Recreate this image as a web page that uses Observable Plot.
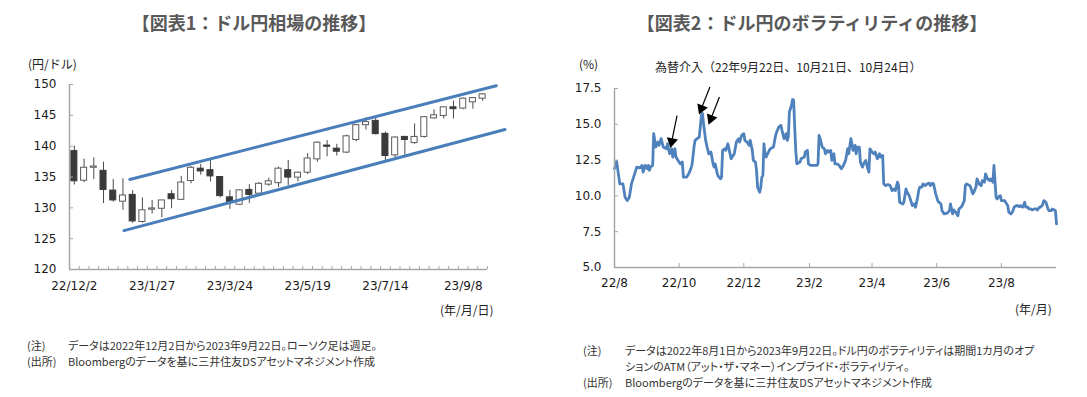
<!DOCTYPE html>
<html><head><meta charset="utf-8">
<script src="https://cdn.jsdelivr.net/npm/d3@7"></script>
<script src="https://cdn.jsdelivr.net/npm/@observablehq/plot@0.6"></script>
<style>
html,body{margin:0;padding:0;background:#fff}
body{width:1087px;height:397px;position:relative;overflow:hidden;font-family:"Noto Sans CJK JP",sans-serif;color:#222}
.a{position:absolute;white-space:nowrap;line-height:1}
.title{font-weight:bold;font-size:18px;color:#595959;transform:translate(-50%,-50%)}
.lab{font-size:12px;transform:translateY(-50%)}
.note{font-size:11px;transform:translateY(-50%);font-feature-settings:"palt";color:#333}
</style></head><body>
<div id="c1" class="a" style="left:0;top:70px"></div>
<div id="c2" class="a" style="left:560px;top:70px"></div>
<div class="a title" style="left:254px;top:22px">【図表1：ドル円相場の推移】</div>
<div class="a title" style="left:812px;top:22px">【図表2：ドル円のボラティリティの推移】</div>
<div class="a lab" style="left:28px;top:64px">(円/ドル)</div>
<div class="a lab" style="left:579px;top:64px">(%)</div>
<div class="a lab" style="left:655px;top:67px">為替介入（22年9月22日、10月21日、10月24日）</div>
<div class="a lab" style="left:440px;top:310px">(年/月/日)</div>
<div class="a lab" style="left:1015px;top:309px">(年/月)</div>
<div class="a note" style="left:27px;top:345px">(注)</div>
<div class="a note" style="left:68px;top:345px">データは2022年12月2日から2023年9月22日。ローソク足は週足。</div>
<div class="a note" style="left:27px;top:361px">(出所)</div>
<div class="a note" style="left:68px;top:361px">Bloombergのデータを基に三井住友DSアセットマネジメント作成</div>
<div class="a note" style="left:583px;top:350px">(注)</div>
<div class="a note" style="left:625px;top:350px">データは2022年8月1日から2023年9月22日。ドル円のボラティリティは期間1カ月のオプ</div>
<div class="a note" style="left:625px;top:366px">ションのATM（アット・ザ・マネー）インプライド・ボラティリティ。</div>
<div class="a note" style="left:583px;top:382px">(出所)</div>
<div class="a note" style="left:625px;top:382px">Bloombergのデータを基に三井住友DSアセットマネジメント作成</div>
<script>
// ---------- Chart 1: weekly USD/JPY candles ----------
const weekDates = ["2022-12-02","2022-12-09","2022-12-16","2022-12-23","2022-12-30","2023-01-06","2023-01-13","2023-01-20","2023-01-27","2023-02-03","2023-02-10","2023-02-17","2023-02-24","2023-03-03","2023-03-10","2023-03-17","2023-03-24","2023-03-31","2023-04-07","2023-04-14","2023-04-21","2023-04-28","2023-05-05","2023-05-12","2023-05-19","2023-05-26","2023-06-02","2023-06-09","2023-06-16","2023-06-23","2023-06-30","2023-07-07","2023-07-14","2023-07-21","2023-07-28","2023-08-04","2023-08-11","2023-08-18","2023-08-25","2023-09-01","2023-09-08","2023-09-15","2023-09-22"];
const openV  = [139.2,134.4,136.5,136.0,132.8,131.0,132.1,127.7,129.7,129.85,132.2,131.3,134.35,136.35,136.1,135.0,131.7,130.5,132.9,132.3,133.76,134.0,136.1,134.9,135.7,137.86,140.1,139.6,138.96,141.0,143.4,144.1,142.0,138.5,141.5,140.5,141.5,144.5,144.9,146.3,146.1,147.1,147.7];
const highV  = [140.0,137.9,138.1,137.4,134.6,134.7,132.8,131.6,131.2,131.2,132.8,135.1,136.7,137.05,137.8,135.1,132.83,132.9,133.75,134.1,134.8,136.6,137.7,135.8,138.8,140.7,140.9,140.3,141.8,143.5,144.65,144.9,142.3,141.5,141.6,143.6,144.8,145.9,146.3,147.3,147.8,147.9,148.5];
const lowV   = [133.7,134.1,134.6,130.7,130.9,129.6,127.5,127.5,129.0,128.4,129.85,131.2,133.9,135.3,134.2,131.6,129.75,130.4,130.7,131.9,133.5,133.3,133.6,134.2,135.4,137.4,138.3,138.4,138.8,140.7,142.6,141.8,137.6,138.1,138.3,140.3,141.3,144.4,144.4,144.4,145.9,146.0,147.3];
const closeV = [134.3,136.5,136.7,132.9,131.2,132.0,127.8,129.6,129.9,131.2,131.4,134.1,136.5,135.9,135.1,131.9,130.88,132.83,132.1,133.9,134.3,136.35,134.9,135.7,138.0,140.57,139.9,139.1,141.6,143.4,143.9,141.96,138.4,141.4,141.0,141.5,144.7,145.0,146.3,146.0,147.7,147.8,148.4];
const tickWeeks  = [0, 8, 16, 24, 32, 40];
const tickLabels1 = ["22/12/2","23/1/27","23/3/24","23/5/19","23/7/14","23/9/8"];
const yTicks1 = [120,125,130,135,140,145,150];
// trend channel (week index, yen)
const channelUpper = [{w:5.7, v:134.6},{w:43.4, v:149.8}];
const channelLower = [{w:5.1, v:126.3},{w:44.3, v:142.7}];

// ---------- Chart 2: 1M ATM implied volatility ----------
const volStart = "2022-08-01";
const volDays = [0,2,5,8,10,12,14,16,19,21,24,26,27,29,31,32,33,34,36,37,39,41,42,44,46,49,50,52,54,55,57,58,60,62,64,65,68,70,72,73,74,75,76,78,80,82,83,84,86,87,89,91,93,94,95,97,98,100,101,102,104,105,107,109,110,112,113,115,117,118,120,122,123,125,127,128,130,131,133,134,135,137,138,139,140,141,142,143,146,147,150,152,153,155,157,158,160,162,163,164,165,167,168,169,170,171,172,175,176,179,180,182,183,185,188,191,192,193,194,196,198,199,201,202,204,205,207,208,210,212,214,216,218,220,221,223,224,225,227,228,229,231,232,234,235,237,239,240,241,243,245,246,248,250,251,253,254,256,258,260,262,264,265,267,268,269,272,273,275,276,278,279,281,283,284,286,287,288,290,291,293,295,297,298,300,301,303,305,306,308,309,311,314,316,317,319,320,322,324,325,327,328,330,331,332,335,336,338,339,341,342,344,346,347,349,350,352,354,355,357,358,360,361,362,364,365,368,369,371,372,374,376,377,379,380,382,383,385,387,388,390,391,393,394,396,398,399,401,402,404,405,407,409,410,412,413,415,416,417];
const volValues = [11.9,12.4,10.84,10.84,9.91,9.67,9.91,10.84,11.54,12.01,11.96,12.13,11.66,12.13,11.89,12.13,11.78,12.01,12.13,14.35,13.41,13.76,13.53,14.0,13.41,13.29,13.64,12.94,13.29,12.71,13.29,12.71,12.48,12.24,12.36,11.31,11.31,11.54,11.89,12.13,12.71,13.41,13.88,14.0,14.11,15.63,15.75,15.05,13.88,13.53,12.94,13.06,12.24,12.01,12.24,11.54,11.36,11.19,11.31,13.18,13.29,13.18,13.64,12.94,12.59,12.83,12.94,13.76,14.0,13.76,14.23,14.35,13.88,13.76,13.53,13.88,13.18,12.48,12.36,11.78,10.61,10.26,10.61,11.31,11.43,13.64,12.94,12.71,13.18,13.29,13.41,14.23,14.46,14.81,14.93,14.58,14.0,14.35,13.88,14.11,15.86,16.33,16.73,16.68,14.81,13.18,12.24,12.36,12.59,12.71,13.06,13.18,12.24,12.13,12.13,12.13,12.24,14.23,14.0,13.41,13.29,12.94,13.18,13.06,13.18,12.48,12.94,12.24,12.24,12.13,11.89,12.13,12.48,13.29,12.94,14.0,13.64,13.18,13.53,12.94,13.41,13.41,12.36,12.01,12.24,12.48,11.89,11.66,13.29,13.06,12.94,13.06,12.59,12.94,12.71,12.83,10.84,10.72,10.79,10.72,10.37,10.49,10.37,10.96,10.72,9.56,9.44,9.56,10.49,10.26,10.02,9.79,9.32,9.44,9.21,9.91,10.37,10.61,10.61,10.84,10.72,10.84,10.89,10.72,10.89,10.84,10.14,9.67,9.56,9.44,8.97,8.74,8.79,8.97,9.44,8.74,9.02,8.86,8.62,9.09,9.21,9.32,9.67,10.72,10.84,10.72,10.61,10.14,10.26,10.61,11.19,10.84,10.72,11.07,10.96,11.54,11.19,11.07,11.19,10.96,12.13,9.91,9.79,9.91,10.02,9.67,9.67,9.56,9.32,8.86,8.74,8.97,9.21,9.32,9.32,9.25,9.32,9.21,9.56,9.21,9.21,9.09,9.09,9.02,9.09,9.09,9.02,9.21,9.21,9.39,9.67,9.56,9.09,8.97,8.97,9.09,9.02,8.97,8.04];
const volXTicks = ["2022-08-01","2022-10-01","2022-12-01","2023-02-01","2023-04-01","2023-06-01","2023-08-01"];
const volXLabels = ["22/8","22/10","22/12","23/2","23/4","23/6","23/8"];
const volYTicks = [5,7.5,10,12.5,15,17.5];
// intervention arrows: tail -> tip
const arrowTailDate = ["2022-09-29","2022-10-30","2022-11-08"];
const arrowTailVal  = [15.6,17.6,16.9];
const arrowTipDate  = ["2022-09-24","2022-10-22","2022-10-31"];
const arrowTipVal   = [13.8,16.1,15.4];

// ---------- build ----------
const axisGray = "#a6a6a6";
const candles = weekDates.map((d,i)=>({w:i,o:openV[i],h:highV[i],l:lowV[i],c:closeV[i]}));
const up = d => d.c >= d.o;
const fontStyle = {fontFamily:"DejaVu Sans", fontSize:"12px", color:"#1a1a1a", background:"transparent", overflow:"visible"};

const chart1 = Plot.plot({
  width:540, height:250,
  marginLeft:69, marginRight:53, marginTop:14, marginBottom:51,
  style:fontStyle,
  x:{type:"linear", domain:[-0.5, weekDates.length-0.5], label:null},
  y:{domain:[120,150], label:null},
  marks:[
    Plot.ruleX(candles,{x:"w", y1:"l", y2:"h", stroke:"#4a4a4a", strokeWidth:1}),
    Plot.rect(candles,{x1:d=>d.w-0.31, x2:d=>d.w+0.31, y1:"o", y2:"c",
      fill:d=>up(d)?"#ffffff":"#3a3a3a", stroke:d=>up(d)?"#5a5a5a":"#3a3a3a", strokeWidth:1}),
    Plot.line(channelUpper,{x:"w", y:"v", stroke:"#4a7ebb", strokeWidth:3}),
    Plot.line(channelLower,{x:"w", y:"v", stroke:"#4a7ebb", strokeWidth:3}),
    Plot.axisX(d3.range(-0.5, weekDates.length, 1),{tickSize:-3, stroke:axisGray, tickFormat:()=>"", label:null}),
    Plot.axisX(tickWeeks,{tickSize:0, tickPadding:12, tickFormat:(d,i)=>tickLabels1[i], label:null}),
    Plot.axisY(yTicks1,{tickSize:-4, stroke:axisGray, tickFormat:()=>"", label:null}),
    Plot.axisY(yTicks1,{tickSize:0, tickPadding:13, label:null}),
    Plot.ruleY([120],{stroke:axisGray, strokeWidth:1.5}),
    Plot.ruleX([-0.5],{stroke:axisGray, strokeWidth:1.5})
  ]
});
document.getElementById("c1").append(chart1);

const t0 = new Date(volStart);
const vol = volDays.map((d,i)=>({date:d3.utcDay.offset(t0,d), v:volValues[i]}));
const W2 = 527, H2 = 240, ML2 = 54, MR2 = 31, MT2 = 18, MB2 = 43;
const xDom2 = [new Date("2022-08-01"), new Date("2023-09-22")];
const yDom2 = [5,17.5];
// pixel helpers (same linear mapping as the plot) to orient the filled arrow heads
const px = d3.scaleUtc(xDom2, [ML2, W2-MR2]);
const py = d3.scaleLinear(yDom2, [H2-MB2, MT2]);
const arrows = arrowTailDate.map((d,i)=>{
  const a = {x1:new Date(d), y1:arrowTailVal[i], x2:new Date(arrowTipDate[i]), y2:arrowTipVal[i]};
  const dx = px(a.x2)-px(a.x1), dy = py(a.y2)-py(a.y1);
  a.rot = Math.atan2(dx, -dy)*180/Math.PI;
  return a;
});
const xt = volXTicks.map(s=>new Date(s));
const chart2 = Plot.plot({
  width:W2, height:H2,
  marginLeft:ML2, marginRight:MR2, marginTop:MT2, marginBottom:MB2,
  style:fontStyle,
  x:{type:"utc", domain:xDom2, label:null},
  y:{domain:yDom2, label:null},
  marks:[
    Plot.line(vol,{x:"date", y:"v", stroke:"#4f81bd", strokeWidth:2.8, strokeLinejoin:"round"}),
    Plot.link(arrows,{x1:"x1", y1:"y1", x2:"x2", y2:"y2", stroke:"#000", strokeWidth:1.2}),
    Plot.dot(arrows,{x:"x2", y:"y2", symbol:"triangle", rotate:"rot", r:4.2, fill:"#000", stroke:null}),
    Plot.axisX(xt,{tickSize:-4, stroke:axisGray, tickFormat:()=>"", label:null}),
    Plot.axisX(xt,{tickSize:0, tickPadding:11, tickFormat:(d,i)=>volXLabels[i], label:null}),
    Plot.axisY(volYTicks,{tickSize:-4, stroke:axisGray, tickFormat:()=>"", label:null}),
    Plot.axisY(volYTicks,{tickSize:0, tickPadding:13, tickFormat:d=>d.toFixed(1), label:null}),
    Plot.ruleY([5],{stroke:axisGray, strokeWidth:1.5}),
    Plot.ruleX([xDom2[0]],{stroke:axisGray, strokeWidth:1.5})
  ]
});
document.getElementById("c2").append(chart2);
</script>
</body></html>
